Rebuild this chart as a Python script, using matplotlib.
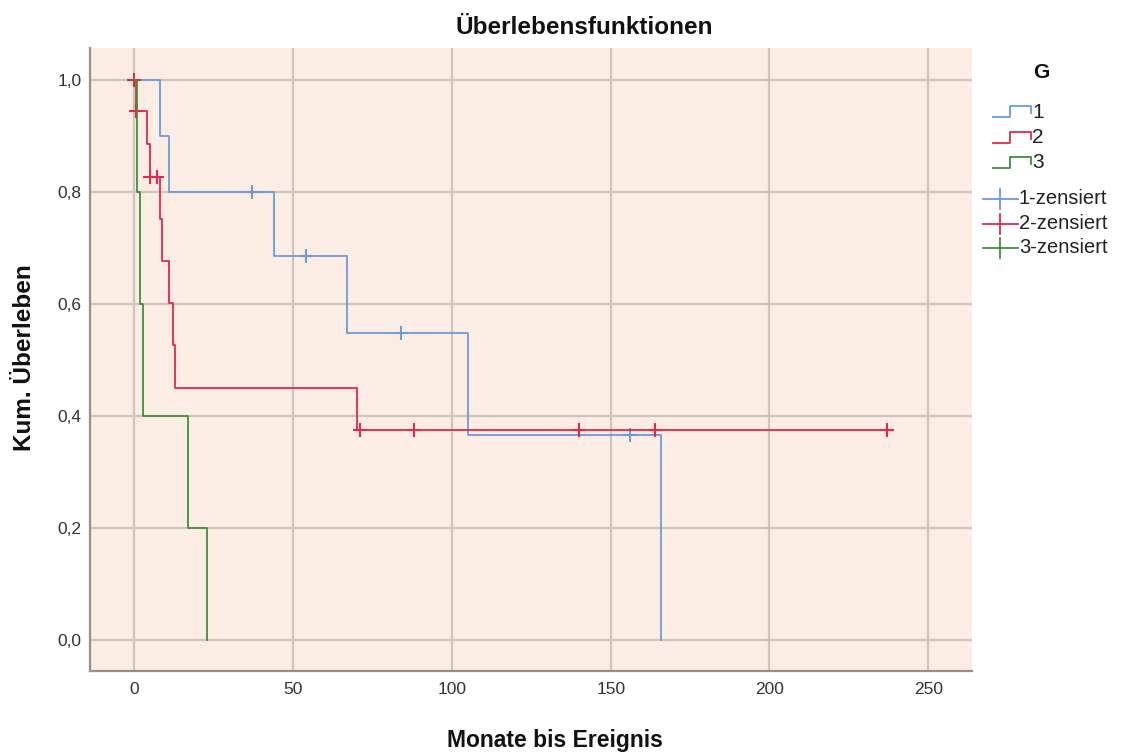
import matplotlib
matplotlib.use("Agg")

import matplotlib.pyplot as plt
from matplotlib.lines import Line2D

plt.rcParams["font.family"] = ["Liberation Sans", "DejaVu Sans"]

# Kaplan-Meier Stufen je Gruppe (Zeit in Monaten, kum. Überleben)
times_1 = [0, 8, 11, 44, 67, 105, 166]
surv_1 = [1.0, 0.9, 0.8, 0.686, 0.549, 0.366, 0.0]
end_1 = 166
cens_t_1 = [37, 54, 84, 156]
cens_s_1 = [0.8, 0.686, 0.549, 0.366]

times_2 = [0, 0.5, 3.9, 4.8, 7.9, 8.7, 10.8, 12.1, 12.9, 70]
surv_2 = [1.0, 0.944, 0.885, 0.826, 0.751, 0.676, 0.601, 0.526, 0.451, 0.376]
end_2 = 237
cens_t_2 = [0, 0.5, 5, 7, 71, 88, 140, 164, 237]
cens_s_2 = [1.0, 0.944, 0.826, 0.826, 0.376, 0.376, 0.376, 0.376, 0.376]

times_3 = [0, 0.8, 1.9, 2.8, 17, 23]
surv_3 = [1.0, 0.8, 0.6, 0.4, 0.2, 0.0]
end_3 = 23
cens_t_3 = []
cens_s_3 = []

groups = ["1", "2", "3"]
colors = ["#6A9BDB", "#E3284C", "#3F8F3A"]

x_ticks = [0, 50, 100, 150, 200, 250]
y_ticks = [0.0, 0.2, 0.4, 0.6, 0.8, 1.0]
y_ticklabels = ["0,0", "0,2", "0,4", "0,6", "0,8", "1,0"]

W, H = 1126, 753
fig = plt.figure(figsize=(W / 100, H / 100), dpi=100)
ax = fig.add_axes([90 / W, 1 - 671 / H, (972 - 90) / W, (671 - 48) / H])
ax.set_facecolor("#FCEDE4")

ax.set_xlim(-14, 263.8)
ax.set_ylim(-0.055, 1.057)
ax.set_xticks(x_ticks)
ax.set_yticks(y_ticks)
ax.set_yticklabels(y_ticklabels)
ax.tick_params(length=0, labelsize=12.5, colors="#333333")
ax.tick_params(axis="x", pad=8)
ax.tick_params(axis="y", pad=6)
ax.grid(True, color="#CFC3BB", linewidth=1.6)
ax.set_axisbelow(True)

for side in ["top", "right"]:
    ax.spines[side].set_visible(False)
for side in ["left", "bottom"]:
    ax.spines[side].set_color("#9C8E86")
    ax.spines[side].set_linewidth(1.6)

series = [
    (times_1, surv_1, end_1, cens_t_1, cens_s_1),
    (times_2, surv_2, end_2, cens_t_2, cens_s_2),
    (times_3, surv_3, end_3, cens_t_3, cens_s_3),
]
for (t, s, end, ct, cs), c in zip(series, colors):
    ax.step(t + [end], s + [s[-1]], where="post", color=c, linewidth=1.3)
    if ct:
        ax.plot(ct, cs, linestyle="none", marker="+", markersize=9.5,
                markeredgewidth=1.5, color=c)

fig.text(584 / W, 1 - 28 / H, "Überlebensfunktionen", ha="center", va="center",
         fontsize=17.5, fontweight="bold", color="#111111")
fig.text(555 / W, 1 - 740 / H, "Monate bis Ereignis", ha="center", va="center",
         fontsize=16.5, fontweight="bold", color="#111111")
fig.text(25 / W, 1 - 358 / H, "Kum. Überleben", ha="center", va="center",
         rotation=90, fontsize=17.5, fontweight="bold", color="#111111")

# Legende (Stufensymbole und Zensierungs-Kreuze)
def fx(x):
    return x / W


def fy(y):
    return 1 - y / H


fig.text(fx(1041), fy(72), "G", ha="center", va="center",
         fontsize=15, fontweight="bold", color="#111111")
for i, (g, c) in enumerate(zip(groups, colors)):
    y0 = 117 + i * 25.5
    xs = [993, 1010, 1010, 1031, 1031]
    ys = [y0, y0, y0 - 11, y0 - 11, y0 - 4]
    fig.add_artist(Line2D([fx(v) for v in xs], [fy(v) for v in ys],
                          color=c, linewidth=1.3, transform=fig.transFigure))
    fig.text(fx(1032), fy(y0 - 5), g, ha="left", va="center",
             fontsize=15, color="#222222")
for i, (g, c) in enumerate(zip(groups, colors)):
    y0 = 199 + i * 24.5
    fig.add_artist(Line2D([fx(983), fx(1018)], [fy(y0), fy(y0)],
                          color=c, linewidth=1.3, transform=fig.transFigure))
    fig.add_artist(Line2D([fx(1000), fx(1000)], [fy(y0 - 10), fy(y0 + 10)],
                          color=c, linewidth=1.3, transform=fig.transFigure))
    fig.text(fx(1019), fy(y0), g + "-zensiert", ha="left", va="center",
             fontsize=14.5, color="#222222")

fig.savefig("out.png", dpi=100, facecolor="white")
